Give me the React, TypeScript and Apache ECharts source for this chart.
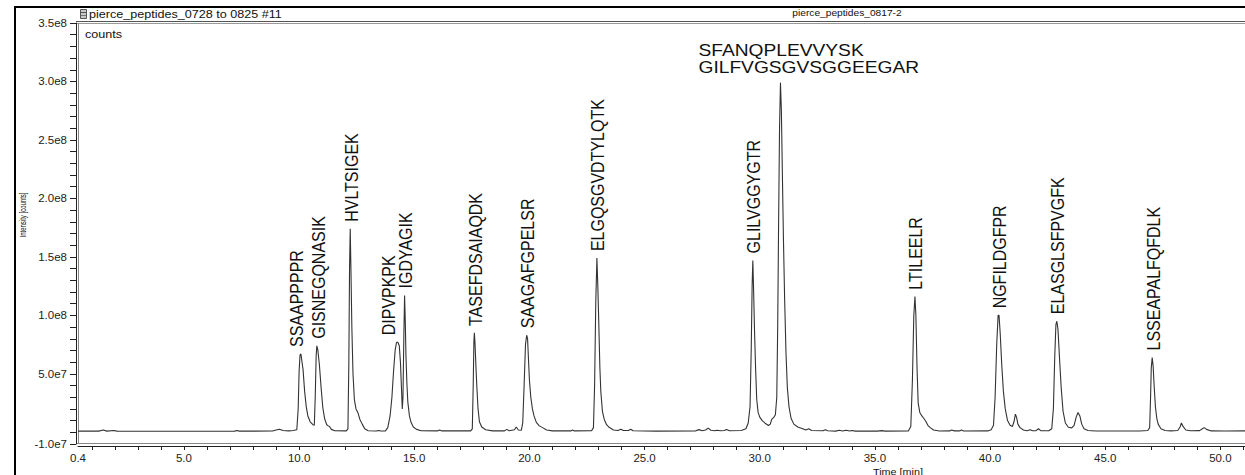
import { useEffect, useRef } from "react";
import * as echarts from "echarts";

// ---- Chromatogram trace (time in min, intensity in millions of counts) ----
const traceTime = [
  0.4, 1.3, 1.5, 1.65, 1.95, 2.1, 4.0, 7.2, 7.3, 7.4, 8.85, 9.0, 9.15, 9.3, 9.55, 9.75, 9.9,
  9.96, 10.0, 10.04, 10.08, 10.12, 10.17, 10.24, 10.31, 10.38, 10.48, 10.6,
  10.66, 10.7, 10.74, 10.77, 10.81, 10.88, 10.96, 11.03, 11.11, 11.2, 11.27, 11.32, 11.4, 11.55,
  12.05, 12.12, 12.16, 12.19, 12.22, 12.25, 12.29, 12.34, 12.4, 12.47, 12.55, 12.64, 12.74, 12.85, 13.0,
  13.35, 13.45, 13.55, 13.75, 13.85, 13.95, 14.03, 14.1, 14.17, 14.23, 14.29, 14.35, 14.4, 14.44, 14.48,
  14.51, 14.55, 14.58, 14.61, 14.64, 14.68, 14.72, 14.79, 14.86, 14.96, 15.1, 15.3,
  16.0, 16.1, 16.2, 17.45, 17.52, 17.56, 17.59, 17.61, 17.64, 17.68, 17.72, 17.77, 17.83, 17.93, 18.1, 18.4,
  18.9, 19.02, 19.12, 19.35, 19.43, 19.52, 19.65, 19.71, 19.77, 19.83, 19.88, 19.92, 19.96, 20.0, 20.06,
  20.13, 20.2, 20.3, 20.43, 20.57, 20.75, 21.0, 21.8, 21.87, 21.95,
  22.7, 22.78, 22.83, 22.88, 22.93, 22.97, 23.01, 23.06, 23.1, 23.17, 23.25, 23.35, 23.46, 23.65, 23.85,
  23.97, 24.08, 24.3, 24.4, 24.5, 25.5, 27.2, 27.36, 27.5, 27.65, 27.76, 27.88, 28.05, 28.14, 28.3, 28.46,
  28.56, 28.68, 29.2, 29.4, 29.5, 29.58, 29.63, 29.67, 29.7, 29.73, 29.77, 29.82, 29.87, 29.93, 30.0,
  30.11, 30.25, 30.38, 30.46, 30.52, 30.6, 30.68, 30.74, 30.78, 30.82, 30.86, 30.9, 30.94, 30.98, 31.03,
  31.08, 31.14, 31.2, 31.27, 31.36, 31.48, 31.65, 31.84, 32.0, 32.13, 32.25, 32.75, 32.85, 32.95,
  33.3, 33.45, 33.6, 33.75, 33.9, 34.0, 34.15, 35.1, 35.3, 35.45,
  36.45, 36.56, 36.63, 36.69, 36.74, 36.78, 36.83, 36.88, 36.95, 37.04, 37.12, 37.21, 37.3, 37.4, 37.55, 37.8,
  38.25, 38.33, 38.45, 38.68, 38.76, 38.85, 39.9, 40.05, 40.15, 40.22, 40.29, 40.35, 40.39, 40.44, 40.51,
  40.58, 40.66, 40.76, 40.87, 40.97, 41.04, 41.1, 41.15, 41.21, 41.3, 41.45, 41.6, 41.74, 41.85, 42.0,
  42.1, 42.2, 42.55, 42.68, 42.75, 42.81, 42.86, 42.9, 42.95, 43.02, 43.09, 43.17, 43.27, 43.4, 43.55,
  43.65, 43.74, 43.82, 43.9, 43.98, 44.08, 44.25, 44.6, 46.5, 46.85, 46.93, 46.97, 47.0, 47.04, 47.08,
  47.13, 47.18, 47.24, 47.3, 47.42, 47.6, 47.85, 48.15, 48.25, 48.31, 48.38, 48.5, 48.7, 49.1, 49.22,
  49.3, 49.4, 49.6, 50.2, 51.07,
];

const traceIntensityM = [
  1.0, 1.0, 1.9, 1.0, 1.6, 1.0, 0.9, 1.0, 1.6, 1.0, 1.1, 2.0, 2.6, 1.5, 1.2, 1.6, 2.2,
  20, 52, 66, 67, 61, 54, 35, 22, 14, 9, 6.5,
  6, 30, 65, 74, 71, 58, 37, 21, 11.5, 6.5, 5.5, 5.0, 2.5, 1.3,
  1.2, 3, 60, 140, 174, 140, 90, 50, 28, 20, 17, 11, 7, 3, 1.3,
  1.1, 1.6, 1.1, 1.2, 4, 14, 30, 52, 70, 77, 77, 74, 60, 40, 20,
  30, 85, 117, 95, 65, 42, 26, 14, 8.5, 4.5, 2.5, 1.3,
  1.2, 2.0, 1.2, 1.2, 3, 40, 78, 85, 75, 55, 38, 20, 9, 4.5, 2.2, 1.2,
  1.2, 2.5, 1.3, 2.2, 4.5, 2.0, 1.8, 8, 40, 75, 83, 80, 62, 45, 30,
  20, 14, 8.5, 5.5, 4, 2, 1.2, 1.2, 1.9, 1.2,
  1.3, 4, 40, 110, 149, 125, 95, 55, 35, 18, 11, 6.5, 4.3, 2.0, 1.5,
  2.6, 1.5, 1.5, 2.6, 1.3, 1.0, 1.1, 2.3, 1.3, 2.0, 3.6, 1.8, 1.3, 1.8, 1.3, 1.5,
  2.4, 1.3, 1.5, 3, 8, 22, 70, 125, 147, 125, 90, 55, 28, 17, 13,
  10, 7.5, 5.8, 7, 11, 12.5, 15, 30, 90, 180, 260, 299, 275, 225, 165,
  115, 68, 38, 22, 12, 7, 4.5, 3.3, 2.0, 3.0, 1.5, 1.3, 2.2, 1.3,
  1.0, 1.8, 1.1, 1.8, 1.1, 1.6, 1.0, 1.0, 1.4, 1.0,
  1.2, 5, 45, 100, 116, 100, 55, 25, 17, 14, 12, 9.5, 6, 4, 2, 1.1,
  1.2, 1.9, 1.2, 1.2, 1.9, 1.1, 1.2, 2.2, 6, 30, 75, 100, 100, 85, 57,
  35, 20, 10, 6, 5, 9, 15.5, 13, 7, 4, 2, 1.3, 2.2, 1.3, 1.4,
  3.0, 1.4, 1.3, 3, 20, 65, 92, 95, 88, 62, 38, 18, 8, 4.3, 3.8,
  6, 13, 17, 14, 7, 3, 1.5, 1.1, 1.1, 1.5, 4, 30, 55, 64, 57,
  38, 22, 12, 7, 3, 1.5, 1.2, 1.5, 4.5, 8, 5, 2, 1.3, 1.4, 3,
  4, 2.5, 1.2, 1.1, 1.2,
];
const COUNTS_PER_UNIT = 1e6;

// ---- Peak annotations ----
const peakNames = [
  "SSAAPPPPR", "GISNEGQNASIK", "HVLTSIGEK", "DIPVPKPK", "IGDYAGIK", "TASEFDSAIAQDK",
  "SAAGAFGPELSR", "ELGQSGVDTYLQTK", "GLILVGGYGTR", "SFANQPLEVVYSK\nGILFVGSGVSGGEEGAR",
  "LTILEELR", "NGFILDGFPR", "ELASGLSFPVGFK", "LSSEAPALFQFDLK",
];
const peakTime = [10.06, 10.77, 12.22, 14.26, 14.58, 17.61, 19.88, 22.93, 29.7, 30.9, 36.74, 40.37, 42.9, 47.04];
const peakIntensity = [6.7e7, 7.4e7, 1.74e8, 7.7e7, 1.17e8, 8.5e7, 8.3e7, 1.49e8, 1.47e8, 2.99e8, 1.16e8, 1.0e8, 9.5e7, 6.4e7];

// ---- Axis ticks ----
const xLabelValues = [0.4, 5, 10, 15, 20, 25, 30, 35, 40, 45, 50];
const xLabelTexts = ["0.4", "5.0", "10.0", "15.0", "20.0", "25.0", "30.0", "35.0", "40.0", "45.0", "50.0"];
const xTickValues = Array.from({ length: 51 }, (_, i) => i + 1);
const yLabelValues = [-1e7, 5e7, 1e8, 1.5e8, 2e8, 2.5e8, 3e8, 3.5e8];
const yLabelTexts = ["-1.0e7", "5.0e7", "1.0e8", "1.5e8", "2.0e8", "2.5e8", "3.0e8", "3.5e8"];
const yTickValues = Array.from({ length: 37 }, (_, i) => (i - 1) * 1e7);

const titleLeft = "pierce_peptides_0728 to 0825 #11";
const titleRight = "pierce_peptides_0817-2";
const unitLabel = "counts";
const yAxisTitle = "Intensity [counts]";
const xAxisTitle = "Time [min]";

// layout tweaks for labels (px)
const labelNudge: Record<string, number> = { SSAAPPPPR: -4, GISNEGQNASIK: 2, DIPVPKPK: -9 };
const FONT = "'Liberation Sans', Arial, Helvetica, sans-serif";

function lookup(values: number[], texts: string[], v: number) {
  for (let i = 0; i < values.length; i++) if (Math.abs(values[i] - v) < 1e-6 * Math.max(1, Math.abs(v))) return texts[i];
  return "";
}

function txt(x: number, y: number, text: string, opts: any = {}) {
  const align = opts.align || "left";
  const va = opts.va || "middle";
  return {
    type: "text",
    x,
    y,
    rotation: opts.rotation || 0,
    scaleX: opts.scaleX || 1,
    scaleY: opts.scaleY || 1,
    silent: true,
    style: {
      text,
      fill: opts.fill || "#111",
      fontSize: opts.fontSize || 11,
      fontFamily: FONT,
      align,
      textAlign: align,
      verticalAlign: va,
      textVerticalAlign: va,
    },
  };
}

export default function App() {
  const ref = useRef<HTMLDivElement>(null);
  useEffect(() => {
    if (!ref.current) return;
    const chart = echarts.init(ref.current, null, { renderer: "svg" });
    const trace = traceTime.map((t, i) => [t, traceIntensityM[i] * COUNTS_PER_UNIT]);
    const peaks = peakTime.map((t, i) => [t, peakIntensity[i], i]);

    const lineC = "#222";
    chart.setOption({
      animation: false,
      backgroundColor: "#fff",
      grid: { left: 78, right: 0, top: 23, bottom: 31, containLabel: false },
      xAxis: {
        type: "value",
        min: 0.4,
        max: 51.07,
        offset: 2,
        axisLine: { show: true, onZero: false, lineStyle: { color: lineC, width: 1 } },
        axisTick: { show: true, length: 4, customValues: xTickValues, lineStyle: { color: lineC } },
        axisLabel: {
          customValues: xLabelValues,
          formatter: (v: number) => lookup(xLabelValues, xLabelTexts, v),
          margin: 6,
          fontSize: 11.5,
          fontFamily: FONT,
          color: "#222",
        },
        splitLine: { show: false },
      },
      yAxis: {
        type: "value",
        min: -1e7,
        max: 3.5e8,
        offset: 2,
        axisLine: { show: true, onZero: false, lineStyle: { color: lineC, width: 1 } },
        axisTick: { show: true, length: 6, customValues: yTickValues, lineStyle: { color: lineC } },
        axisLabel: {
          customValues: yLabelValues,
          formatter: (v: number) => lookup(yLabelValues, yLabelTexts, v),
          margin: 9,
          fontSize: 11.5,
          fontFamily: FONT,
          color: "#222",
        },
        splitLine: { show: false },
      },
      series: [
        {
          type: "line",
          data: trace,
          showSymbol: false,
          symbol: "none",
          smooth: false,
          lineStyle: { color: "#333", width: 1.1 },
          silent: true,
          z: 3,
        },
        {
          type: "custom",
          data: peaks,
          silent: true,
          clip: false,
          z: 5,
          renderItem: (params: any, api: any) => {
            const pt = api.coord([api.value(0), api.value(1)]);
            const name = peakNames[params.dataIndex];
            const gap = 7;
            if (name.indexOf("\n") >= 0) {
              return {
                type: "text",
                x: pt[0] - 82,
                y: pt[1] - gap,
                scaleX: 1.2,
                style: {
                  text: name,
                  fill: "#111",
                  fontSize: 16,
                  fontFamily: FONT,
                  lineHeight: 17,
                  align: "left",
                  textAlign: "left",
                  verticalAlign: "bottom",
                  textVerticalAlign: "bottom",
                },
              };
            }
            const dx = labelNudge[name] !== undefined ? labelNudge[name] : 1;
            return {
              type: "text",
              x: pt[0] + dx,
              y: pt[1] - gap,
              rotation: Math.PI / 2,
              scaleY: 1.2,
              style: {
                text: name,
                fill: "#111",
                fontSize: 16,
                fontFamily: FONT,
                align: "left",
                textAlign: "left",
                verticalAlign: "middle",
                textVerticalAlign: "middle",
              },
            };
          },
        },
      ],
      graphic: [
        // outer black frame
        { type: "line", silent: true, shape: { x1: 15, y1: 6, x2: 15, y2: 475 }, style: { stroke: "#000", lineWidth: 2 } },
        { type: "line", silent: true, shape: { x1: 14, y1: 7, x2: 1245, y2: 7 }, style: { stroke: "#000", lineWidth: 2 } },
        // header bottom double line
        { type: "line", silent: true, shape: { x1: 76, y1: 21.5, x2: 1245, y2: 21.5 }, style: { stroke: "#555", lineWidth: 1 } },
        { type: "line", silent: true, shape: { x1: 76, y1: 23.5, x2: 1245, y2: 23.5 }, style: { stroke: "#999", lineWidth: 1 } },
        // inner frame lines
        { type: "line", silent: true, shape: { x1: 78.5, y1: 23, x2: 78.5, y2: 444 }, style: { stroke: "#888", lineWidth: 1 } },
        { type: "line", silent: true, shape: { x1: 76, y1: 443.5, x2: 1245, y2: 443.5 }, style: { stroke: "#888", lineWidth: 1 } },
        // header icon
        { type: "rect", silent: true, shape: { x: 80.5, y: 9.5, width: 6, height: 9 }, style: { fill: "#c8c8c8", stroke: "#555", lineWidth: 1 } },
        { type: "line", silent: true, shape: { x1: 81, y1: 12.5, x2: 86, y2: 12.5 }, style: { stroke: "#555", lineWidth: 1 } },
        { type: "line", silent: true, shape: { x1: 81, y1: 15.5, x2: 86, y2: 15.5 }, style: { stroke: "#777", lineWidth: 1 } },
        txt(89, 14.5, titleLeft, { fontSize: 10.5, scaleX: 1.2 }),
        txt(847, 13.5, titleRight, { fontSize: 8.5, scaleX: 1.2, align: "center" }),
        txt(85, 34, unitLabel, { fontSize: 10.5, scaleX: 1.2 }),
        txt(23, 215, yAxisTitle, { fontSize: 7.5, scaleX: 0.8, scaleY: 1.2, rotation: Math.PI / 2, align: "center" }),
        txt(898, 467, xAxisTitle, { fontSize: 9, scaleX: 1.2, align: "center", va: "top" }),
      ],
    });
    return () => chart.dispose();
  }, []);
  return (
    <div
      ref={ref}
      style={{ position: "absolute", left: 0, top: 0, width: 1245, height: 475, background: "#fff" }}
    />
  );
}
